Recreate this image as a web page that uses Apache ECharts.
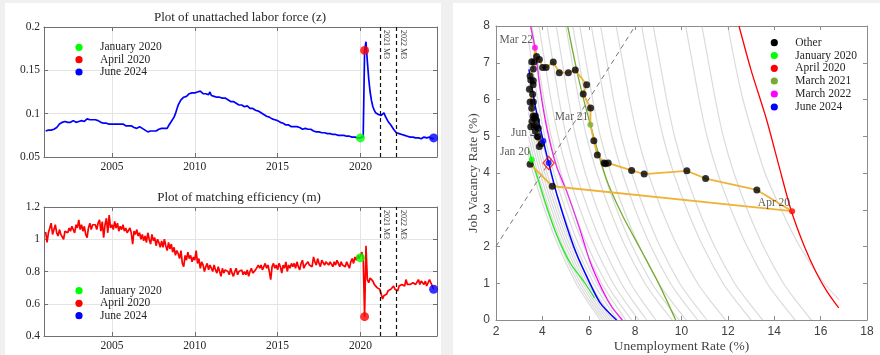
<!DOCTYPE html>
<html>
<head>
<meta charset="utf-8">
<title>Unattached labor force, matching efficiency and the Beveridge curve</title>
<script src="https://cdn.jsdelivr.net/npm/echarts@6.0.0/dist/echarts.min.js"></script>
<style>
  html, body { margin: 0; padding: 0; background: #f0f0f0; }
  #chart { width: 880px; height: 355px; }
</style>
</head>
<body>
<div id="chart"></div>
<script>
// ---------- monthly series, Jan 2001 - Jun 2024 ----------
const firstYear = 2001;

// unattached labor force (z), one row per year
const unattachedLabor = [
  0.080,0.079,0.081,0.080,0.081,0.080,0.082,0.083,0.084,0.086,0.088,0.089,
  0.090,0.089,0.091,0.092,0.090,0.091,0.090,0.091,0.092,0.091,0.090,0.089,
  0.091,0.090,0.092,0.093,0.091,0.092,0.094,0.095,0.093,0.094,0.093,0.092,
  0.093,0.092,0.092,0.091,0.090,0.091,0.089,0.090,0.089,0.089,0.088,0.089,
  0.088,0.089,0.088,0.087,0.088,0.089,0.088,0.087,0.088,0.087,0.086,0.087,
  0.086,0.085,0.086,0.085,0.084,0.085,0.083,0.084,0.085,0.083,0.083,0.082,
  0.081,0.080,0.079,0.081,0.080,0.079,0.080,0.081,0.080,0.081,0.082,0.081,
  0.083,0.082,0.083,0.084,0.083,0.086,0.088,0.091,0.093,0.096,0.100,0.105,
  0.110,0.113,0.116,0.117,0.119,0.121,0.120,0.122,0.123,0.122,0.124,0.125,
  0.124,0.126,0.125,0.127,0.126,0.124,0.123,0.122,0.123,0.121,0.122,0.125,
  0.121,0.119,0.120,0.118,0.119,0.118,0.119,0.120,0.118,0.119,0.118,0.117,
  0.116,0.115,0.114,0.113,0.114,0.112,0.112,0.111,0.110,0.111,0.110,0.109,
  0.108,0.107,0.109,0.108,0.106,0.105,0.106,0.105,0.104,0.103,0.103,0.102,
  0.101,0.100,0.099,0.098,0.097,0.097,0.096,0.095,0.094,0.095,0.093,0.092,
  0.092,0.091,0.090,0.089,0.089,0.088,0.087,0.088,0.087,0.086,0.085,0.085,
  0.085,0.084,0.085,0.083,0.084,0.083,0.082,0.083,0.083,0.082,0.082,0.081,
  0.082,0.081,0.080,0.080,0.079,0.080,0.079,0.078,0.078,0.077,0.078,0.077,
  0.077,0.076,0.077,0.076,0.076,0.075,0.076,0.075,0.075,0.074,0.075,0.074,
  0.075,0.074,0.074,0.073,0.074,0.073,0.073,0.072,0.073,0.072,0.072,0.071,
  0.072,0.072,0.074,0.173,0.183,0.160,0.140,0.125,0.115,0.108,0.104,0.101,
  0.100,0.099,0.099,0.098,0.100,0.101,0.097,0.094,0.091,0.089,0.087,0.085,
  0.082,0.080,0.078,0.077,0.077,0.076,0.076,0.075,0.075,0.074,0.074,0.073,
  0.073,0.072,0.073,0.071,0.072,0.070,0.072,0.071,0.071,0.072,0.073,0.072,
  0.072,0.071,0.073,0.072,0.071,0.072
];

// matching efficiency (m), one row per year
const matchingEfficiency = [
  1.045,0.98,1.04,1.07,1.10,1.03,1.06,1.09,1.04,1.02,1.06,1.03,
  1.03,1.00,1.05,1.06,1.04,1.07,1.05,1.08,1.06,1.04,1.09,1.07,
  1.12,1.06,1.09,1.05,1.08,1.03,1.01,1.07,1.10,1.06,1.09,1.08,
  1.09,1.06,1.10,1.12,1.05,1.11,1.01,1.09,1.13,1.04,1.15,1.07,
  1.09,1.06,1.11,1.07,1.10,1.05,1.08,1.06,1.09,1.05,1.07,1.04,
  1.03,1.07,1.04,0.97,1.05,1.03,1.06,1.02,1.04,1.00,1.03,0.99,
  1.02,0.98,1.04,1.00,0.97,1.03,0.99,1.01,0.96,1.00,0.98,0.95,
  0.99,0.95,1.00,0.96,0.93,0.98,0.94,0.97,0.92,0.95,0.90,0.93,
  0.91,0.88,0.93,0.85,0.83,0.90,0.87,0.92,0.88,0.90,0.86,0.89,
  0.87,0.93,0.85,0.88,0.82,0.86,0.84,0.80,0.83,0.85,0.81,0.84,
  0.82,0.80,0.84,0.81,0.79,0.83,0.80,0.77,0.82,0.79,0.81,0.80,
  0.80,0.78,0.82,0.79,0.77,0.80,0.82,0.78,0.80,0.79,0.81,0.78,
  0.80,0.78,0.81,0.77,0.80,0.82,0.79,0.78,0.81,0.80,0.84,0.82,
  0.84,0.81,0.83,0.85,0.82,0.84,0.80,0.75,0.83,0.85,0.82,0.84,
  0.81,0.85,0.83,0.79,0.84,0.82,0.86,0.80,0.84,0.82,0.85,0.83,
  0.85,0.82,0.86,0.83,0.81,0.85,0.87,0.82,0.84,0.83,0.86,0.84,
  0.85,0.83,0.89,0.86,0.84,0.88,0.85,0.83,0.87,0.86,0.84,0.86,
  0.87,0.84,0.86,0.85,0.83,0.86,0.84,0.87,0.85,0.83,0.86,0.84,
  0.85,0.83,0.86,0.84,0.82,0.86,0.88,0.85,0.89,0.87,0.90,0.88,
  0.885,0.92,0.88,0.52,0.96,0.75,0.73,0.76,0.77,0.74,0.72,0.71,
  0.70,0.69,0.69,0.66,0.63,0.65,0.64,0.66,0.68,0.67,0.69,0.70,
  0.71,0.69,0.70,0.68,0.71,0.70,0.72,0.73,0.71,0.75,0.72,0.71,
  0.72,0.71,0.73,0.74,0.72,0.73,0.75,0.72,0.74,0.73,0.72,0.74,
  0.71,0.73,0.75,0.73,0.74,0.69
];

const yearTicks = [2005, 2010, 2015, 2020];
const policyDates = [2021 + 2 / 12, 2022 + 2 / 12];
const policyLabels = ['2021 M3', '2022 M3'];

const markedMonths = [
  { name: 'January 2020', year: 2020, month: 1, color: '#00ff00' },
  { name: 'April 2020',   year: 2020, month: 4, color: '#ff0000' },
  { name: 'June 2024',    year: 2024, month: 6, color: '#0000ff' }
];

// ---------- Beveridge space, Jan 2020 - Jun 2024 (percent) ----------
const unemploymentRate = [
  3.54,3.47,4.43,14.77,13.25,11.04,10.23,8.39,7.85,6.84,6.72,6.66,
  6.37,6.22,6.07,6.08,5.76,5.91,5.42,5.12,4.73,4.47,4.16,4.01,
  3.87,3.75,3.68,3.64,3.54,3.61,3.47,3.50,3.61,3.60,3.44,3.58,
  3.47,3.61,3.54,3.60,3.70,3.64,3.55,3.75,3.50,3.64,3.75,3.82,
  3.70,3.78,3.82,3.87,3.96,4.04
];
const vacancyRate = [
  4.36,4.24,3.64,2.96,3.54,3.85,4.06,3.97,4.07,4.27,4.25,4.27,
  4.49,4.88,5.31,5.77,6.15,6.40,6.80,6.73,6.73,7.02,6.87,6.87,
  7.09,7.17,7.41,7.02,7.03,6.83,6.64,6.53,6.51,6.40,6.28,6.14,
  5.93,5.93,5.76,5.55,5.55,5.50,5.40,5.43,5.26,5.26,5.26,5.22,
  5.14,5.00,4.98,4.72,4.80,4.87
];

const bevMarked = [
  { name: 'January 2020', tag: 'Jan 20', idx: 0,  color: '#00ff00' },
  { name: 'April 2020',   tag: 'Apr 20', idx: 3,  color: '#ff0000' },
  { name: 'March 2021',   tag: 'Mar 21', idx: 14, color: '#77ac30' },
  { name: 'March 2022',   tag: 'Mar 22', idx: 26, color: '#ff00ff' },
  { name: 'June 2024',    tag: 'Jun 24', idx: 53, color: '#0000ff' }
];

// Beveridge curves of the highlighted months, [u, v]
const curveJan2020 = [[3.44,4.61],[3.54,4.36],[3.82,3.82],[4.15,3.15],[4.6,2.35],[5.2,1.55],[5.84,1.0],[6.25,0.6]];
const curveApr2020 = [[12.48,8],[13.0,6.8],[13.67,5.45],[14.2,4.2],[14.72,3.0],[15.3,2.0],[15.82,1.28],[16.3,0.75],[16.78,0.33]];
const curveMar2021 = [[5.09,8],[5.55,6.6],[6.07,5.31],[6.75,3.85],[7.45,2.85],[8.3,1.85],[9.05,0.95],[9.75,0]];
const curveMar2022 = [[3.49,8],[3.68,7.41],[3.9,6.3],[4.2,5.2],[4.6,4.2],[5.05,3.5],[5.6,2.5],[6.05,1.6],[6.6,0.8],[7.0,0.35],[7.45,0]];
const curveJun2024 = [[3.42,6.82],[3.7,5.8],[4.04,4.87],[4.27,4.28],[4.65,3.36],[5.35,2.0],[5.9,1.2],[6.5,0.46],[7.2,0]];

// Beveridge curves of the remaining months
const otherCurves = [
  [[3.4,4.5],[3.6,4],[4.1,3],[4.7,2],[5.45,1],[5.95,0.5],[6.5,0]],
  [[3.4,4.75],[3.7,4],[4.2,3],[4.8,2],[5.55,1],[6.05,0.5],[6.6,0]],
  [[3.4,5],[3.8,4],[4.3,3],[4.9,2],[5.65,1],[6.15,0.5],[6.7,0]],
  [[3.4,5.33],[3.5,5],[3.9,4],[4.4,3],[5.0,2],[5.75,1],[6.25,0.5],[6.8,0]],
  [[3.4,5.67],[3.6,5],[4.0,4],[4.5,3],[5.1,2],[5.85,1],[6.35,0.5],[6.9,0]],
  [[3.4,6],[3.7,5],[4.1,4],[4.6,3],[5.2,2],[5.95,1],[6.45,0.5],[7.0,0]],
  [[3.4,6.4],[3.5,6],[3.8,5],[4.2,4],[4.7,3],[5.3,2],[6.05,1],[6.55,0.5],[7.1,0]],
  [[3.4,7],[3.65,6],[3.95,5],[4.35,4],[4.85,3],[5.45,2],[6.2,1],[6.7,0.5],[7.25,0]],
  [[3.4,7.6],[3.55,7],[3.8,6],[4.1,5],[4.5,4],[5.0,3],[5.6,2],[6.35,1],[6.85,0.5],[7.4,0]],
  [[3.5,8],[3.75,7],[4.0,6],[4.3,5],[4.7,4],[5.2,3],[5.8,2],[6.55,1],[7.05,0.5],[7.6,0]],
  [[3.55,8],[3.81,7],[4.07,6],[4.38,5],[4.8,4],[5.33,3],[5.96,2],[6.75,1],[7.27,0.5],[7.85,0]],
  [[3.85,8],[4.11,7],[4.37,6],[4.68,5],[5.1,4],[5.63,3],[6.26,2],[7.05,1],[7.57,0.5],[8.15,0]],
  [[4.2,8],[4.46,7],[4.72,6],[5.03,5],[5.45,4],[5.98,3],[6.61,2],[7.4,1],[7.92,0.5],[8.5,0]],
  [[4.6,8],[4.86,7],[5.12,6],[5.43,5],[5.85,4],[6.38,3],[7.01,2],[7.8,1],[8.32,0.5],[8.9,0]],
  [[5.01,8],[5.29,7],[5.57,6],[5.9,5],[6.35,4],[6.91,3],[7.58,2],[8.42,1],[8.98,0.5],[9.6,0]],
  [[5.31,8],[5.59,7],[5.87,6],[6.2,5],[6.65,4],[7.21,3],[7.88,2],[8.72,1],[9.28,0.5],[9.9,0]],
  [[5.61,8],[5.89,7],[6.17,6],[6.5,5],[6.95,4],[7.51,3],[8.18,2],[9.02,1],[9.58,0.5],[10.2,0]],
  [[6.11,8],[6.39,7],[6.67,6],[7.0,5],[7.45,4],[8.01,3],[8.68,2],[9.52,1],[10.08,0.5],[10.7,0]],
  [[6.51,8],[6.79,7],[7.07,6],[7.4,5],[7.85,4],[8.41,3],[9.08,2],[9.92,1],[10.48,0.5],[11.1,0]],
  [[7.18,8],[7.47,7],[7.76,6],[8.1,5],[8.56,4],[9.14,3],[9.83,2],[10.69,1],[11.27,0.5],[11.9,0]],
  [[8.28,8],[8.57,7],[8.86,6],[9.2,5],[9.66,4],[10.24,3],[10.93,2],[11.79,1],[12.37,0.5],[13.0,0]],
  [[8.78,8],[9.07,7],[9.36,6],[9.7,5],[10.16,4],[10.74,3],[11.43,2],[12.29,1],[12.87,0.5],[13.5,0]],
  [[10.18,8],[10.47,7],[10.76,6],[11.1,5],[11.56,4],[12.14,3],[12.83,2],[13.69,1],[14.27,0.5],[14.9,0]],
  [[10.88,8],[11.17,7],[11.46,6],[11.8,5],[12.26,4],[12.84,3],[13.53,2],[14.39,1],[14.97,0.5],[15.6,0]],
  [[12.0,8],[12.3,7],[12.65,6],[13.1,5],[13.6,4],[14.3,3],[15.1,2],[16.15,1],[16.8,0.55]]
];

const balancedPoint = [4.27, 4.27];   // where June 2024's curve meets v = u
const diagonalEnds = [2, 8];

// ---------- drawing ----------
const serif = "'Liberation Serif', 'DejaVu Serif', serif";
const sans = "'Liberation Sans', 'DejaVu Sans', sans-serif";
const frameLeft = '#707070';
const frameRight = '#8c8c8c';
const xMin = 2000.9, xMax = 2024.62;

const monthDates = unattachedLabor.map((_, k) => firstYear + k / 12);
const monthIndex = (y, m) => (y - firstYear) * 12 + (m - 1);

function timeAxis(gridIndex, position) {
  const bottom = position === 'bottom';
  return {
    type: 'value', gridIndex, position, min: xMin, max: xMax,
    axisLine: { show: true, onZero: false, lineStyle: { color: frameLeft, width: 1 } },
    axisTick: { show: true, inside: true, length: 4, customValues: yearTicks, lineStyle: { color: frameLeft } },
    axisLabel: { show: bottom, customValues: yearTicks, formatter: v => String(Math.round(v)),
      margin: 4, fontFamily: serif, fontSize: 11.5, color: '#262626' },
    splitLine: { show: bottom, lineStyle: { color: '#e4e4e4', width: 1 } }
  };
}
function levelAxis(gridIndex, position, min, max, interval) {
  const left = position === 'left';
  return {
    type: 'value', gridIndex, position, min, max, interval,
    axisLine: { show: true, onZero: false, lineStyle: { color: frameLeft, width: 1 } },
    axisTick: { show: true, inside: true, length: 4, lineStyle: { color: frameLeft } },
    axisLabel: { show: left, margin: 4, fontFamily: serif, fontSize: 11.5, color: '#262626' },
    splitLine: { show: left, lineStyle: { color: '#e4e4e4', width: 1 } }
  };
}
function rateAxisX(position) {
  return {
    type: 'value', gridIndex: 2, position, min: 2, max: 18, interval: 2,
    axisLine: { show: true, onZero: false, lineStyle: { color: frameRight, width: 1 } },
    axisTick: { show: true, inside: true, length: 4, lineStyle: { color: frameRight } },
    axisLabel: { show: position === 'bottom', margin: 6, fontFamily: sans, fontSize: 12, color: '#404040' },
    splitLine: { show: false }
  };
}
function rateAxisY(position) {
  return {
    type: 'value', gridIndex: 2, position, min: 0, max: 8, interval: 1,
    axisLine: { show: true, onZero: false, lineStyle: { color: frameRight, width: 1 } },
    axisTick: { show: true, inside: true, length: 4, lineStyle: { color: frameRight } },
    axisLabel: { show: position === 'left', margin: 6, fontFamily: sans, fontSize: 12, color: '#404040' },
    splitLine: { show: false }
  };
}

function timeLine(values, color, xi, yi) {
  return {
    type: 'line', xAxisIndex: xi, yAxisIndex: yi, z: 3,
    data: monthDates.map((d, k) => [d, values[k]]),
    showSymbol: false, silent: true,
    lineStyle: { color, width: 1.7 },
    markLine: {
      silent: true, symbol: ['none', 'none'], label: { show: false },
      lineStyle: { color: '#111', type: [4, 3], width: 1.2 },
      data: policyDates.map(d => ({ xAxis: d }))
    }
  };
}
function timeDots(values, xi, yi) {
  return markedMonths.map(mk => {
    const k = monthIndex(mk.year, mk.month);
    return {
      type: 'scatter', xAxisIndex: xi, yAxisIndex: yi, z: 5, silent: true,
      symbol: 'circle', symbolSize: 9,
      itemStyle: { color: mk.color },
      data: [[monthDates[k], values[k]]]
    };
  });
}

const series = [];
series.push(timeLine(unattachedLabor, '#0000ff', 0, 0));
series.push(...timeDots(unattachedLabor, 0, 0));
series.push(timeLine(matchingEfficiency, '#ff0000', 2, 2));
series.push(...timeDots(matchingEfficiency, 2, 2));

function curve(points, color, width, z) {
  return {
    type: 'line', xAxisIndex: 4, yAxisIndex: 4, z, silent: true,
    data: points, showSymbol: false, smooth: 0.25,
    lineStyle: { color, width }
  };
}
series.push(curve(curveJan2020, '#00ff00', 1.3, 1));
series.push(curve(curveMar2022, '#ff00ff', 1.3, 1));
otherCurves.forEach(c => series.push(curve(c, 'rgba(160,160,160,0.38)', 1.2, 2)));
series.push(curve(curveMar2021, '#77ac30', 1.3, 3));
series.push(curve(curveApr2020, '#ff0000', 1.3, 3));
series.push(curve(curveJun2024, '#0000ff', 1.5, 3));

series.push({
  type: 'line', xAxisIndex: 4, yAxisIndex: 4, z: 2, silent: true, showSymbol: false,
  data: [[diagonalEnds[0], diagonalEnds[0]], [diagonalEnds[1], diagonalEnds[1]]],
  lineStyle: { color: '#777', width: 1, type: [5, 4] }
});

const bevPoints = unemploymentRate.map((u, i) => [u, vacancyRate[i]]);
const markedIdx = bevMarked.map(b => b.idx);
series.push({
  type: 'line', xAxisIndex: 4, yAxisIndex: 4, z: 4, silent: true, showSymbol: false,
  data: bevPoints, lineStyle: { color: '#efb33a', width: 1.8 }
});
series.push({
  type: 'scatter', xAxisIndex: 4, yAxisIndex: 4, z: 5, silent: true,
  symbol: 'circle', symbolSize: 7, itemStyle: { color: '#000' },
  data: bevPoints.filter((_, i) => markedIdx.indexOf(i) < 0)
});
series.push({
  type: 'scatter', xAxisIndex: 4, yAxisIndex: 4, z: 6, silent: true,
  symbol: 'diamond', symbolSize: [11, 13],
  itemStyle: { color: 'rgba(255,255,255,0)', borderColor: '#ff0000', borderWidth: 1.3 },
  data: [balancedPoint]
});
series.push({
  type: 'scatter', xAxisIndex: 4, yAxisIndex: 4, z: 7, silent: true,
  symbol: 'circle', symbolSize: 6, itemStyle: { color: '#0000ff' },
  data: [balancedPoint]
});
bevMarked.forEach(b => {
  series.push({
    type: 'scatter', xAxisIndex: 4, yAxisIndex: 4, z: 7, silent: true,
    symbol: 'circle', symbolSize: 6, itemStyle: { color: b.color },
    data: [bevPoints[b.idx]],
    label: {
      show: true, formatter: b.tag, position: [1, 1], align: 'right', verticalAlign: 'bottom',
      fontFamily: serif, fontSize: 11.5, color: '#333'
    }
  });
});

// ---------- titles, legends, panels ----------
function txt(id, x, y, text, size, fill, extra) {
  return Object.assign({
    type: 'text', id, x, y, silent: true, z: 20,
    style: { text, font: size + 'px ' + serif, fill, textAlign: 'center', textVerticalAlign: 'middle' }
  }, extra || {});
}
function legendBlock(prefix, x, ys, items) {
  const out = [];
  items.forEach((it, i) => {
    out.push({ type: 'circle', id: prefix + 'c' + i, z: 20, silent: true,
      shape: { cx: x, cy: ys[i], r: 3.6 }, style: { fill: it.color } });
    out.push({ type: 'text', id: prefix + 't' + i, z: 20, silent: true, x: x + 21, y: ys[i],
      style: { text: it.name, font: '11.5px ' + serif, fill: '#262626', textAlign: 'left', textVerticalAlign: 'middle' } });
  });
  return out;
}

const bevLegend = [{ name: 'Other', color: '#000' }].concat(bevMarked.map(b => ({ name: b.name, color: b.color })));

const graphics = [
  { type: 'rect', id: 'panelL', z: -10, silent: true, shape: { x: 5, y: 3, width: 436, height: 352 }, style: { fill: '#ffffff' } },
  { type: 'rect', id: 'panelR', z: -10, silent: true, shape: { x: 453, y: 3, width: 427, height: 352 }, style: { fill: '#ffffff' } },
  txt('t1', 240, 18, 'Plot of unattached labor force (z)', 13, '#262626'),
  txt('t2', 239, 198, 'Plot of matching efficiency (m)', 13, '#262626'),
  txt('tx', 681.5, 346.5, 'Unemployment Rate (%)', 13.5, '#444'),
  txt('ty', 473, 173, 'Job Vacancy Rate (%)', 13.5, '#444', { rotation: Math.PI / 2 })
]
  .concat(legendBlock('lz', 79, [47.3, 59.7, 72], markedMonths))
  .concat(legendBlock('lm', 79, [290.7, 303.3, 315.7], markedMonths))
  .concat(legendBlock('lb', 774.3, [42.7, 55.5, 68.3, 81, 94, 107], bevLegend));

const option = {
  backgroundColor: '#f0f0f0',
  animation: false,
  grid: [
    { left: 44, top: 27, width: 393, height: 130, containLabel: false },
    { left: 44, top: 207, width: 393, height: 129, containLabel: false },
    { left: 496, top: 26, width: 371, height: 294, containLabel: false }
  ],
  xAxis: [
    timeAxis(0, 'bottom'), timeAxis(0, 'top'),
    timeAxis(1, 'bottom'), timeAxis(1, 'top'),
    rateAxisX('bottom'), rateAxisX('top')
  ],
  yAxis: [
    levelAxis(0, 'left', 0.05, 0.2, 0.05), levelAxis(0, 'right', 0.05, 0.2, 0.05),
    levelAxis(1, 'left', 0.4, 1.2, 0.2), levelAxis(1, 'right', 0.4, 1.2, 0.2),
    rateAxisY('left'), rateAxisY('right')
  ],
  graphic: graphics,
  series
};

const chart = echarts.init(document.getElementById('chart'), null, { renderer: 'canvas', width: 880, height: 355 });
chart.setOption(option);

// rotated tags beside the dashed policy dates
const tagGraphics = [];
policyDates.forEach((d, i) => {
  [[0, 0, 0.2], [2, 2, 1.2]].forEach(([xi, yi, top], j) => {
    const p = chart.convertToPixel({ xAxisIndex: xi, yAxisIndex: yi }, [d, top]);
    tagGraphics.push({
      type: 'text', id: 'pol' + i + '_' + j, x: p[0] + 6.5, y: p[1] + 3, rotation: -Math.PI / 2,
      silent: true, z: 20,
      style: { text: policyLabels[i], font: '8px ' + serif, fill: '#333', textAlign: 'left', textVerticalAlign: 'middle' }
    });
  });
});
chart.setOption({ graphic: graphics.concat(tagGraphics) });
</script>
</body>
</html>
